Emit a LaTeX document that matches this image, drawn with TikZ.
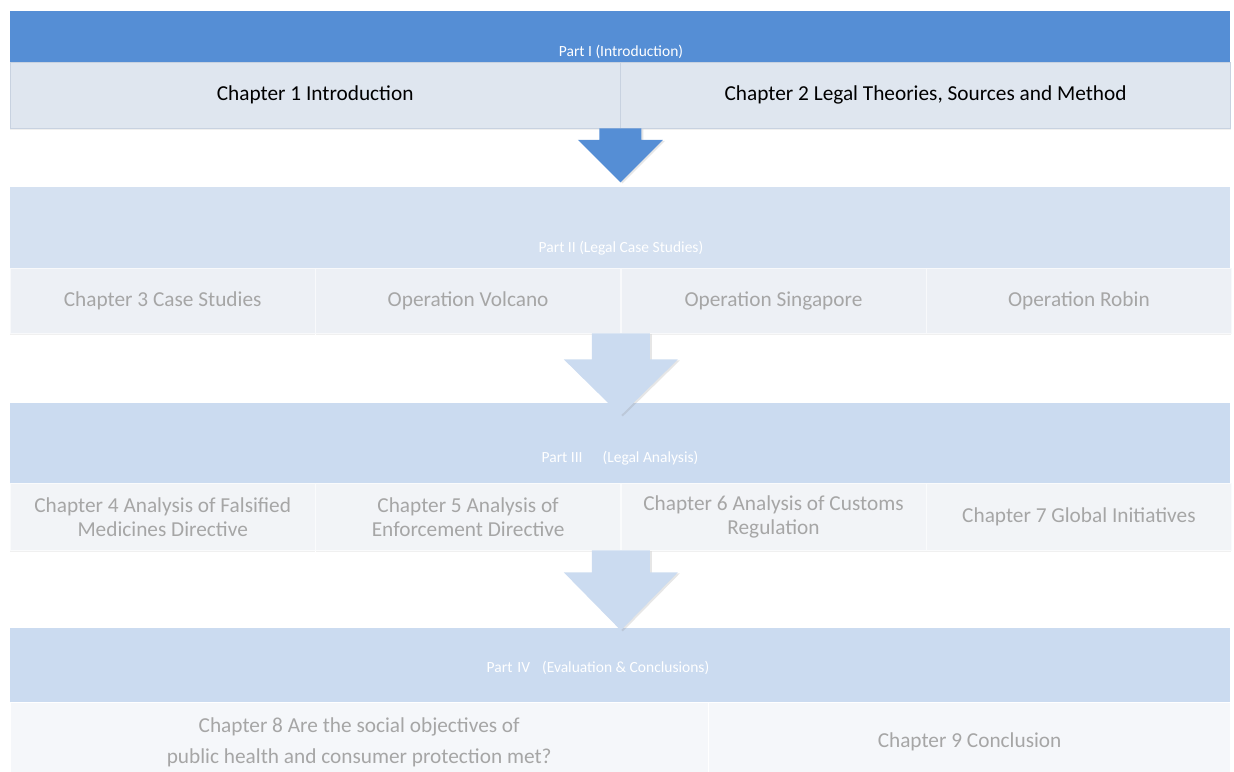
\documentclass[tikz,border=0pt]{standalone}
\usepackage{fontspec}
\setmainfont{Carlito}
\usetikzlibrary{shadows}
\definecolor{partblue}{HTML}{558ED5}
\definecolor{partpale}{HTML}{D5E1F1}
\definecolor{partlight}{HTML}{CBDBF0}
\definecolor{rowone}{HTML}{DFE6EF}
\definecolor{rowline}{HTML}{C8D2E0}
\definecolor{rowtwo}{HTML}{EDF0F5}
\definecolor{rowthree}{HTML}{F2F4F7}
\definecolor{rowfour}{HTML}{F5F7FA}
\definecolor{greytext}{HTML}{A6A6A6}
\begin{document}
\begin{tikzpicture}[x=1pt,y=-1pt,
  band/.style={minimum width=1220pt,inner sep=0pt,anchor=north west},
  tag/.style={text=white,font=\fontsize{15.5}{18}\selectfont,inner sep=0pt},
  cell/.style={inner sep=0pt,anchor=north west,align=center,
    font=\fontsize{21.3}{24}\selectfont,
    drop shadow={opacity=0.12,shadow xshift=0pt,shadow yshift=-2pt}},
  cellI/.style={cell,fill=rowone,draw=rowline,minimum height=66pt,minimum width=610pt},
  cellII/.style={cell,fill=rowtwo,draw=white!60!rowtwo,text=greytext,minimum height=65pt,minimum width=305pt},
  cellIII/.style={cell,fill=rowthree,draw=white!60!rowthree,text=greytext,minimum height=67pt,minimum width=305pt},
  cellIV/.style={cell,fill=rowfour,draw=white,text=greytext,minimum height=80pt},
  downarrow/.style={drop shadow={opacity=0.2,shadow xshift=2pt,shadow yshift=-1pt}}]
\useasboundingbox (0,0) rectangle (1234,771);
\clip (0,0) rectangle (1234,771);

% Part I
\node[band,fill=partblue,minimum height=51pt] (p1) at (10,11) {};
\node[tag] (p1t) at (621,52) {Part I (Introduction)};
\node[cellI] (c1) at (10,62) {Chapter 1 Introduction};
\node[cellI] (c2) at (c1.north east) {Chapter 2 Legal Theories, Sources and Method};

% Part II
\node[band,fill=partpale,minimum height=81pt] (p2) at (10,187) {};
\node[tag] (p2t) at (621,248) {Part II (Legal Case Studies)};
\node[cellII] (c3) at (10,268) {Chapter 3 Case Studies};
\node[cellII] (volcano) at (c3.north east) {Operation Volcano};
\node[cellII] (singapore) at (volcano.north east) {Operation Singapore};
\node[cellII] (robin) at (singapore.north east) {Operation Robin};

% Part III
\node[band,fill=partlight,minimum height=80pt] (p3) at (10,403) {};
\node[tag] (p3t) at (620,458) {Part III\hspace{20pt}(Legal Analysis)};
\node[cellIII] (c4) at (10,483) {Chapter 4 Analysis of Falsified\\Medicines Directive};
\node[cellIII] (c5) at (c4.north east) {Chapter 5 Analysis of\\Enforcement Directive};
\node[cellIII] (c6) at (c5.north east) {Chapter 6 Analysis of Customs\\Regulation};
\node[cellIII] (c7) at (c6.north east) {Chapter 7 Global Initiatives};

% Part IV
\node[band,fill=partlight,minimum height=74pt] (p4) at (10,628) {};
\node[tag] (p4t) at (598,668) {Part\hspace{5pt}IV\hspace{12pt}(Evaluation \& Conclusions)};
\node[cellIV,minimum width=698pt] (c8) at (10,702) {Chapter 8 Are the social objectives of\\[7pt]public health and consumer protection met?};
\node[cellIV,minimum width=522pt] (c9) at (c8.north east) {Chapter 9 Conclusion};

% arrows between the parts
\fill[partblue,downarrow] (c1.south east) ++(-21,0) -- ++(0,11.5) -- ++(-21.5,0)
  -- ++(42.5,42.5) -- ++(42.5,-42.5) -- ++(-21.5,0) -- ++(0,-11.5) -- cycle;
\fill[partlight,downarrow] (volcano.south east) ++(-29,0) -- ++(0,26) -- ++(-28,0)
  -- ++(57,56) -- ++(57,-56) -- ++(-28,0) -- ++(0,-26) -- cycle;
\fill[partlight,downarrow] (c5.south east) ++(-29,0) -- ++(0,22) -- ++(-28,0)
  -- ++(57,58) -- ++(57,-58) -- ++(-28,0) -- ++(0,-22) -- cycle;
\end{tikzpicture}
\end{document}
